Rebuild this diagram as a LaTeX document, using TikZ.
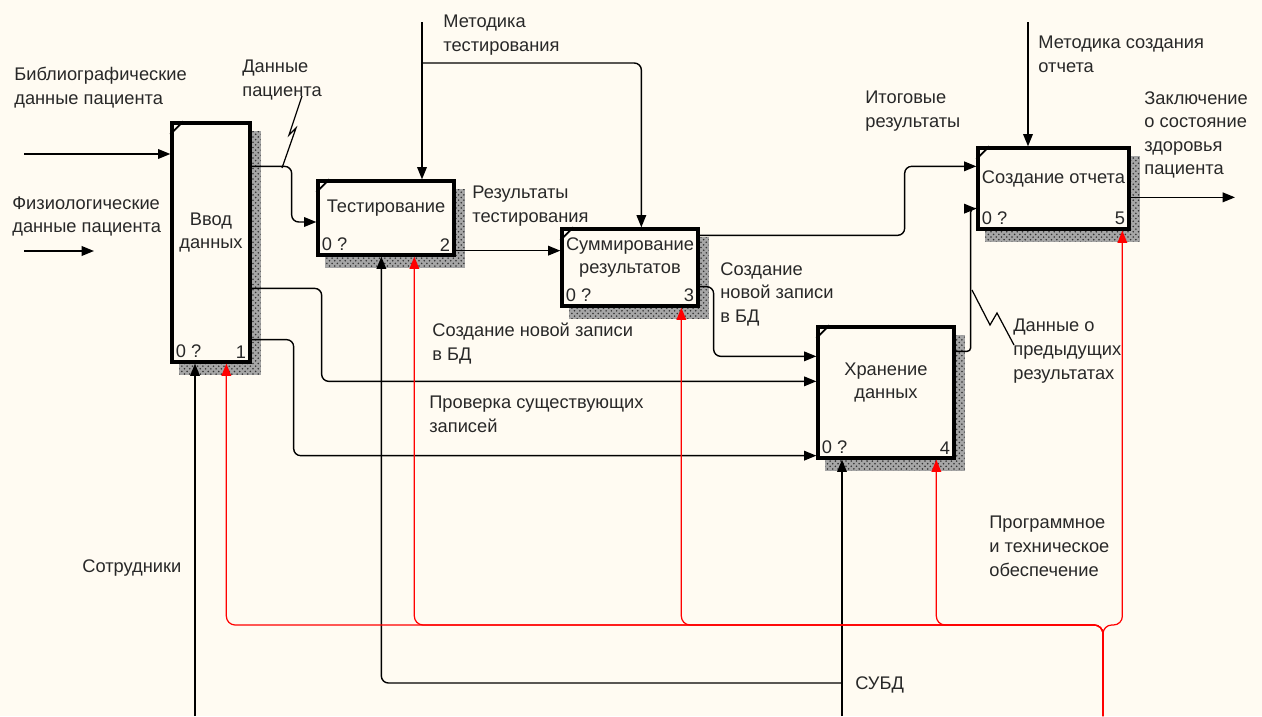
\documentclass[tikz,border=0pt]{standalone}
\usepackage{fontspec}
\setmainfont{Liberation Sans}
\usetikzlibrary{arrows.meta,calc,patterns}
\definecolor{paper}{RGB}{255,251,242}
\definecolor{ink}{RGB}{40,40,40}
\pgfdeclarelayer{paperlayer}
\pgfdeclarelayer{shadelayer}
\pgfsetlayers{paperlayer,shadelayer,main}
\begin{document}
\begin{tikzpicture}[x=0.02cm, y=-0.02cm, font=\fontsize{10.4}{13.4}\selectfont,
  main/.style = {draw, line width=1.9pt, fill=paper, inner sep=0pt},
  title/.style = {text=ink, align=center, yshift=0.2cm},
  num/.style = {text=ink, inner sep=3pt},
  txt/.style = {text=ink, align=left, anchor=north west, inner sep=0pt},
  arr/.style = {line width=0.8pt, rounded corners=4pt, -{Triangle[length=7pt,width=5.5pt]}},
  mech/.style = {red, line width=0.7pt, rounded corners=5pt, -{Triangle[length=7pt,width=5.5pt]}}]
\begin{pgfonlayer}{paperlayer}
\fill[paper] (0,0) rectangle (1262,716);
\end{pgfonlayer}
\node[main, minimum width=1.56cm, minimum height=4.78cm, label={[title]center:Ввод\\данных}, label={[num,anchor=south west]south west:0 ?}, label={[num,anchor=south east]south east:1}] (1) at (211,242.5) {};
\node[main, minimum width=2.72cm, minimum height=1.48cm, label={[title]center:Тестирование}, label={[num,anchor=south west]south west:0 ?}, label={[num,anchor=south east]south east:2}] (2) at (386,218) {};
\node[main, minimum width=2.72cm, minimum height=1.54cm, label={[title]center:Суммирование\\результатов}, label={[num,anchor=south west]south west:0 ?}, label={[num,anchor=south east]south east:3}] (3) at (630,267.5) {};
\node[main, minimum width=2.72cm, minimum height=2.62cm, label={[title]center:Хранение\\данных}, label={[num,anchor=south west]south west:0 ?}, label={[num,anchor=south east]south east:4}] (4) at (886,392.5) {};
\node[main, minimum width=3.02cm, minimum height=1.62cm, label={[title]center:Создание отчета}, label={[num,anchor=south west]south west:0 ?}, label={[num,anchor=south east]south east:5}] (5) at (1053.5,188.5) {};
\begin{pgfonlayer}{shadelayer}
\foreach \b in {1,...,5}
  \fill[black!35, postaction={pattern=crosshatch dots, pattern color=black!80}] ($(\b.north west)+(9,10)$) rectangle ($(\b.south east)+(9,11)$);
\end{pgfonlayer}
\foreach \b in {1,...,5}
  \draw[line width=1pt] ($(\b.north west)+(0,13)$) -- ($(\b.north west)+(13,0)$);

\node[txt] (bib) at (14,67) {Библиографические\\данные пациента};
\node[txt] (fiz) at (12,196) {Физиологические\\данные пациента};
\node[txt] (dp) at (242,60) {Данные\\пациента};
\node[txt] (met1) at (443,15) {Методика\\тестирования};
\node[txt] (res) at (472,186) {Результаты\\тестирования};
\node[txt] (nov1) at (432,323) {Создание новой записи\\в БД};
\node[txt] (prov) at (429,396) {Проверка существующих\\записей};
\node[txt] (nov2) at (720,262) {Создание\\новой записи\\в БД};
\node[txt] (itog) at (865,91) {Итоговые\\результаты};
\node[txt] (met2) at (1038,36) {Методика создания\\отчета};
\node[txt] (zakl) at (1144,91) {Заключение\\о состояние\\здоровья\\пациента};
\node[txt] (pred) at (1013,319) {Данные о\\предыдущих\\результатах};
\node[txt] (po) at (989,516) {Программное\\и техническое\\обеспечение};
\node[txt] (sotr) at (82,559) {Сотрудники};
\node[txt] (subd) at (855,676) {СУБД};

\coordinate (in1) at (24,154);
\coordinate (in2) at (24,251);
\coordinate (in2e) at (94,251);
\coordinate (o1a) at ($(1.north east)+(0,45)$);
\coordinate (o1b) at ($(1.north east)+(0,167)$);
\coordinate (o1c) at ($(1.south east)+(0,-24)$);
\coordinate (i2) at ($(2.west)+(0,4)$);
\coordinate (o2) at ($(2.south east)+(0,-6)$);
\coordinate (o3a) at ($(3.north east)+(0,8)$);
\coordinate (o3b) at ($(3.south east)+(0,-21)$);
\coordinate (i4a) at ($(4.north west)+(0,31)$);
\coordinate (i4b) at ($(4.north west)+(0,56)$);
\coordinate (i4c) at ($(4.south west)+(0,-4)$);
\coordinate (o4) at ($(4.north east)+(0,26)$);
\coordinate (i5a) at ($(5.north west)+(0,20)$);
\coordinate (i5b) at ($(5.south west)+(0,-22)$);
\coordinate (o5) at ($(5.north east)+(0,51)$);
\coordinate (out5) at (1235,199);
\coordinate (c2) at (422,22);
\coordinate (c2b) at (422,63);
\coordinate (c5) at (1028,22);
\coordinate (m1) at (195,716);
\coordinate (m4) at (842,716);
\coordinate (m4b) at (842,683);
\coordinate (sw) at (1103,716);
\coordinate (bus) at (1103,625);
\coordinate (dpt) at (302,96);
\coordinate (dpz) at (282,168);
\coordinate (pdz) at (972,290);
\coordinate (pdt) at (1014,345);

\draw[arr] (in1) -- (in1 -| 1.west);
\draw[arr] (in2) -- (in2e);
\draw[arr] (o1a) -- ++(40,0) |- (i2);
\draw[arr] (o1b) -- ++(70,0) |- (i4b);
\draw[arr] (o1c) -- ++(42,0) |- (i4c);
\draw[arr] (o2) -- (o2 -| 3.west);
\draw[arr] (o3a) -- ++(205,0) |- (i5a);
\draw[arr] (o3b) -- ++(14,0) |- (i4a);
\draw[arr, rounded corners=2pt] (o4) -- ++(15,0) |- (i5b);
\draw[arr] (o5) -- (o5 -| out5);
\draw[arr] (c2) -- (c2 |- 2.north);
\draw[arr] (c2b) -| ($(3.north west)+(81,0)$);
\draw[arr] (c5) -- (c5 |- 5.north);
\draw[arr] (m1) -- (m1 |- 1.south);
\draw[arr] (m4) -- (m4 |- 4.south);
\draw[arr] (m4b) -| ($(2.south west)+(65,0)$);
\foreach \b/\dx in {1/56, 2/98, 3/121, 4/120, 5/146}
  \draw[mech] (sw) -- (bus) -| ($(\b.south west)+(\dx,0)$);
\draw[line width=0.7pt] (dpt) -- (289,135) -- (296,128) -- (dpz);
\draw[line width=0.7pt] (pdz) -- (990,325) -- (997,313) -- (pdt);
\end{tikzpicture}
\end{document}
